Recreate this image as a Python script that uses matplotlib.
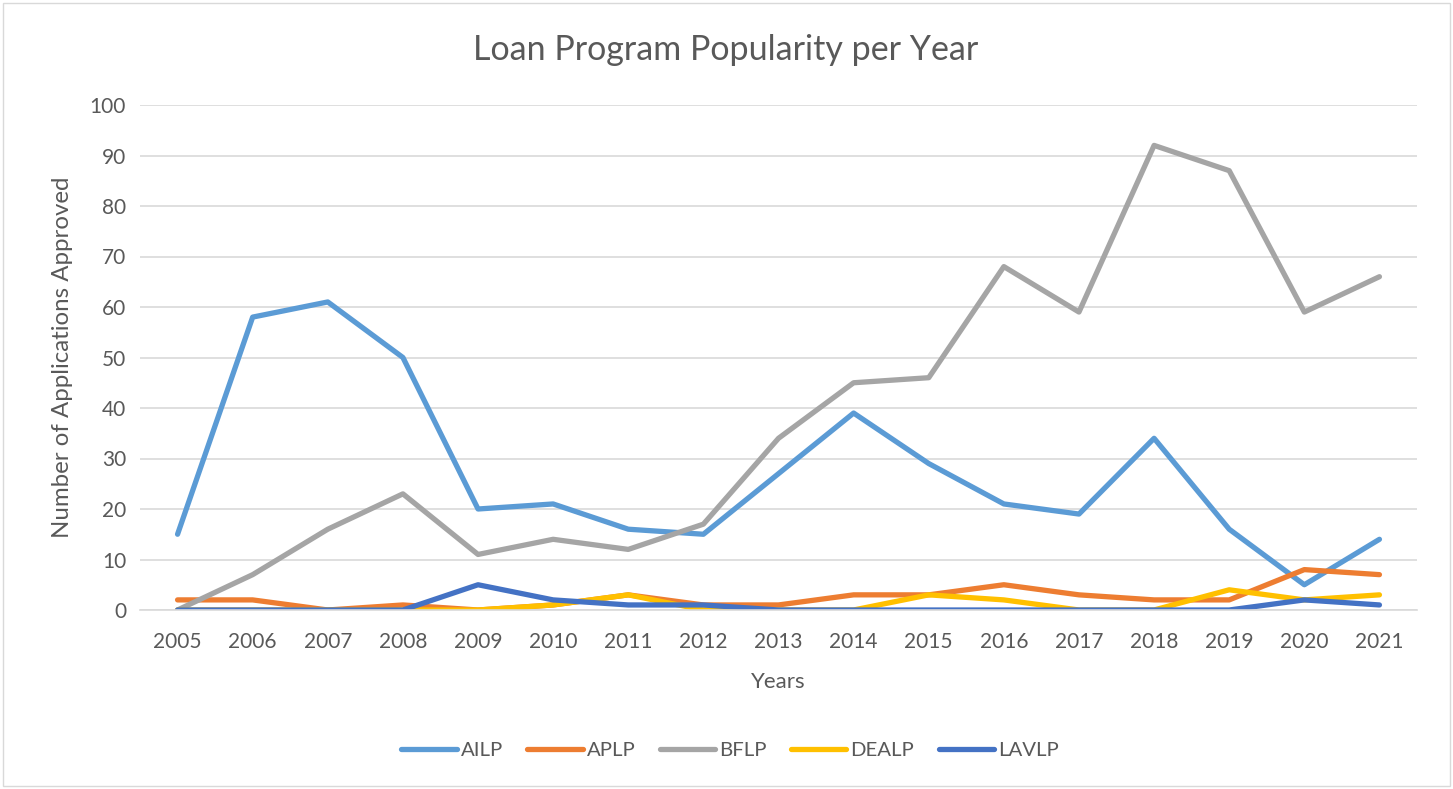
import matplotlib
matplotlib.use("Agg")
import matplotlib.pyplot as plt
from matplotlib.patches import Rectangle

years = [str(y) for y in range(2005, 2022)]
ailp = [15, 58, 61, 50, 20, 21, 16, 15, 27, 39, 29, 21, 19, 34, 16, 5, 14]
aplp = [2, 2, 0, 1, 0, 1, 3, 1, 1, 3, 3, 5, 3, 2, 2, 8, 7]
bflp = [0, 7, 16, 23, 11, 14, 12, 17, 34, 45, 46, 68, 59, 92, 87, 59, 66]
dealp = [0, 0, 0, 0, 0, 1, 3, 0, 0, 0, 3, 2, 0, 0, 4, 2, 3]
lavlp = [0, 0, 0, 0, 5, 2, 1, 1, 0, 0, 0, 0, 0, 0, 0, 2, 1]
series_names = ["AILP", "APLP", "BFLP", "DEALP", "LAVLP"]
colors = ["#5B9BD5", "#ED7D31", "#A5A5A5", "#FFC000", "#4472C4"]
yticks = list(range(0, 101, 10))

plt.rcParams['font.family'] = ['Lato', 'DejaVu Sans']
txt = "#595959"

W, H = 1453, 789
fig = plt.figure(figsize=(W / 100, H / 100), dpi=100)
ax = fig.add_axes([140 / W, 1 - 610 / H, (1417 - 140) / W, (610 - 105) / H])

x = list(range(len(years)))
for name, vals, c in zip(series_names, [ailp, aplp, bflp, dealp, lavlp], colors):
    ax.plot(x, vals, color=c, lw=3.8, label=name,
            solid_capstyle='round', solid_joinstyle='round')

ax.set_xlim(-0.5, len(years) - 0.5)
ax.set_ylim(0, 100)
ax.set_yticks(yticks)
ax.set_xticks(x)
ax.set_xticklabels(years)
ax.grid(axis='y', color='#D9D9D9', lw=1.2)
ax.set_axisbelow(True)
for s in ['top', 'right', 'left']:
    ax.spines[s].set_visible(False)
ax.spines['bottom'].set_color('#D9D9D9')
ax.spines['bottom'].set_linewidth(1.2)
ax.tick_params(axis='both', length=0, labelsize=15, colors=txt)
ax.tick_params(axis='x', pad=16)
ax.tick_params(axis='y', pad=10)

ax.set_xlabel("Years", fontsize=16, color=txt, labelpad=14)
ax.set_ylabel("Number of Applications Approved", fontsize=17.3, color=txt, labelpad=12)
fig.text(726 / W, 1 - 50 / H, "Loan Program Popularity per Year",
         fontsize=24.5, color=txt, ha='center', va='center')

leg = fig.legend(loc='center', bbox_to_anchor=(730 / W, 1 - 750 / H), ncol=5,
                 frameon=False, fontsize=14.7, handlelength=2.7, columnspacing=1.2,
                 handletextpad=0.2)
for t in leg.get_texts():
    t.set_color(txt)

fig.patches.append(Rectangle((3 / W, 3 / H), (W - 6) / W, (H - 6) / H,
                             transform=fig.transFigure, fill=False,
                             edgecolor='#D9D9D9', lw=1))

fig.savefig("out.png", dpi=100, facecolor='white')
